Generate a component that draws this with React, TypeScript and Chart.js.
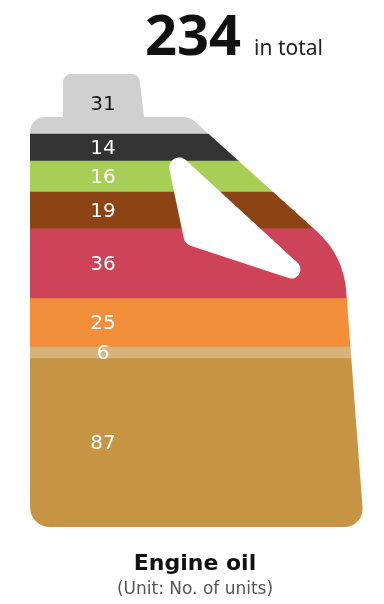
import React, { useEffect, useRef } from "react";
import { Chart, registerables } from "chart.js";

Chart.register(...registerables);

// ---- data (top of the canister to bottom) ----
const categories = ["Engine oil"];
const segmentValues = [31, 14, 16, 19, 36, 25, 6, 87];
const segmentColors = ["#d0d0d0", "#333333", "#a8cf55", "#8d4414", "#cd4459", "#f38f3b", "#d7b37b", "#c79443"];
const labelColors = ["#1a1a1a", "#ffffff", "#ffffff", "#ffffff", "#ffffff", "#ffffff", "#ffffff", "#ffffff"];
const totalSuffix = "in total";
const chartTitle = "Engine oil";
const unitNote = "(Unit: No. of units)";

const total = segmentValues.reduce((a, b) => a + b, 0);

function canisterPath(ctx: CanvasRenderingContext2D) {
  ctx.beginPath();
  ctx.moveTo(63, 117);
  ctx.lineTo(63, 82);
  ctx.arcTo(63, 74, 100, 74, 8);
  ctx.arcTo(139, 74, 144, 117, 8);
  ctx.lineTo(144, 117);
  ctx.arcTo(190, 117, 343.5, 255.3, 18);
  ctx.arcTo(343.5, 255.3, 364, 527, 90);
  ctx.arcTo(364, 527, 30, 527, 18);
  ctx.arcTo(30, 527, 30, 117, 20);
  ctx.arcTo(30, 117, 63, 117, 15);
  ctx.closePath();
}

function windowPath(ctx: CanvasRenderingContext2D) {
  const v1 = [163, 139];
  const v2 = [185, 244];
  const v3 = [328, 291];
  ctx.beginPath();
  ctx.moveTo((v1[0] + v2[0]) / 2, (v1[1] + v2[1]) / 2);
  ctx.arcTo(v2[0], v2[1], v3[0], v3[1], 10);
  ctx.arcTo(v3[0], v3[1], v1[0], v1[1], 9);
  ctx.arcTo(v1[0], v1[1], v2[0], v2[1], 10);
  ctx.closePath();
}

const canisterPlugin = {
  id: "canister",
  beforeDatasetsDraw(chart: any) {
    const ctx = chart.ctx as CanvasRenderingContext2D;
    ctx.save();
    canisterPath(ctx);
    ctx.clip();
  },
  afterDatasetsDraw(chart: any) {
    const ctx = chart.ctx as CanvasRenderingContext2D;
    ctx.restore();
    ctx.save();
    windowPath(ctx);
    ctx.fillStyle = "#ffffff";
    ctx.fill();
    ctx.restore();

    ctx.save();
    ctx.font = "20px 'DejaVu Sans'";
    ctx.textAlign = "center";
    ctx.textBaseline = "middle";
    const x = chart.chartArea.left + 73;
    chart.data.datasets.forEach((ds: any, i: number) => {
      const meta = chart.getDatasetMeta(i);
      const bar: any = meta.data[0];
      if (!bar) return;
      const { y, base } = bar.getProps(["y", "base"], true);
      ctx.fillStyle = ds.labelColor;
      ctx.fillText(String(ds.data[0]), x, (y + base) / 2 + 1);
    });
    ctx.restore();
  },
};

export default function App() {
  const ref = useRef<HTMLCanvasElement | null>(null);

  useEffect(() => {
    if (!ref.current) return;
    const n = segmentValues.length;
    const datasets = [];
    for (let i = n - 1; i >= 0; i--) {
      datasets.push({
        label: "s" + i,
        data: [segmentValues[i]],
        backgroundColor: segmentColors[i],
        labelColor: labelColors[i],
        borderWidth: 0,
        categoryPercentage: 1,
        barPercentage: 1,
      } as any);
    }
    const chart = new Chart(ref.current, {
      type: "bar",
      data: { labels: categories, datasets },
      options: {
        animation: false,
        responsive: true,
        maintainAspectRatio: false,
        layout: { padding: { left: 30, right: 20, top: 74, bottom: 77 } },
        plugins: { legend: { display: false }, tooltip: { enabled: false } },
        scales: {
          x: { stacked: true, display: false, grid: { display: false } },
          y: { stacked: true, display: false, min: 0, max: total, grid: { display: false } },
        },
      },
      plugins: [canisterPlugin],
    });
    return () => chart.destroy();
  }, []);

  return (
    <div style={{ position: "absolute", left: 0, top: 0, width: 384, height: 604, background: "#fff" }}>
      <div style={{ position: "absolute", left: 0, top: 0, width: 384, height: 604 }}>
        <canvas ref={ref} />
      </div>
      <div
        style={{
          position: "absolute",
          left: 145,
          top: 5,
          display: "flex",
          alignItems: "baseline",
          fontFamily: "'Noto Sans', sans-serif",
          color: "#111",
          lineHeight: 1,
          whiteSpace: "nowrap",
        }}
      >
        <span style={{ fontSize: 56, fontWeight: 700 }}>{total}</span>
        <span style={{ fontSize: 21, marginLeft: 13, color: "#222" }}>{totalSuffix}</span>
      </div>
      <div
        style={{
          position: "absolute",
          left: 0,
          width: 390,
          top: 552,
          textAlign: "center",
          fontFamily: "'DejaVu Sans', sans-serif",
          fontWeight: 700,
          fontSize: 22,
          lineHeight: "22px",
          color: "#111",
        }}
      >
        {chartTitle}
      </div>
      <div
        style={{
          position: "absolute",
          left: 0,
          width: 390,
          top: 580,
          textAlign: "center",
          fontFamily: "'DejaVu Sans', sans-serif",
          fontSize: 17,
          lineHeight: "17px",
          color: "#555",
        }}
      >
        {unitNote}
      </div>
    </div>
  );
}
